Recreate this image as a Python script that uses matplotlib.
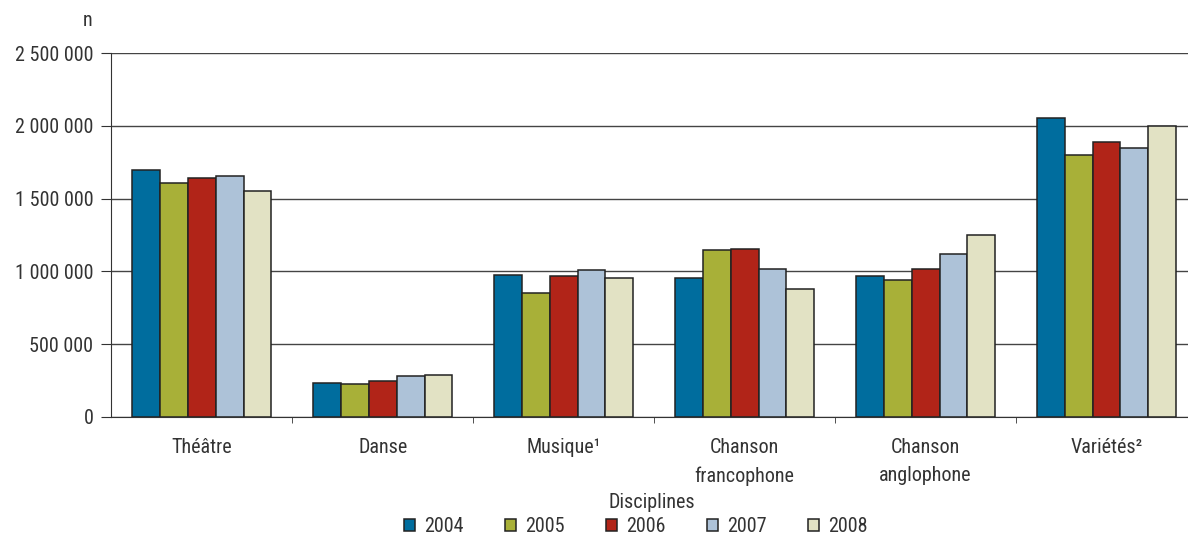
import matplotlib
matplotlib.use("Agg")
import matplotlib.pyplot as plt
from matplotlib import font_manager as fm
import numpy as np
from matplotlib.ticker import FixedLocator, FuncFormatter

# condensed font, if one is around
available = {f.name for f in fm.fontManager.ttflist}
prefs = ['Liberation Sans Narrow', 'Roboto Condensed', 'Archivo Narrow', 'DejaVu Sans']
font = next(p for p in prefs if p in available or p == 'DejaVu Sans')
plt.rcParams['font.family'] = [font, 'DejaVu Sans']
plt.rcParams['text.color'] = '#333333'

categories = ['Théâtre', 'Danse', 'Musique¹', 'Chanson\nfrancophone',
              'Chanson\nanglophone', 'Variétés²']
years = ['2004', '2005', '2006', '2007', '2008']
v2004 = [1700000, 230000, 972000, 952000, 966000, 2052000]
v2005 = [1605000, 223000, 851000, 1144000, 942000, 1802000]
v2006 = [1640000, 243000, 970000, 1153000, 1016000, 1887000]
v2007 = [1658000, 278000, 1011000, 1018000, 1117000, 1846000]
v2008 = [1554000, 285000, 954000, 880000, 1250000, 1997000]
colors = ['#006d9e', '#a8b038', '#b12418', '#adc2d8', '#e2e2c4']

series = [v2004, v2005, v2006, v2007, v2008]

fig = plt.figure(figsize=(11.88, 5.41), dpi=100)
ax = fig.add_axes([0.0937, 0.2298, 0.9139, 0.6717])

x = np.arange(len(categories))
w = 0.154
for i, (vals, col, yr) in enumerate(zip(series, colors, years)):
    ax.bar(x + (i - 2) * w, vals, w, color=col, edgecolor='#222222',
           linewidth=1.1, label=yr, zorder=3)

ax.set_xlim(-0.5, len(categories) - 0.5)
ax.set_ylim(0, 2500000)
ax.set_yticks(np.arange(0, 2500001, 500000))
ax.yaxis.set_major_formatter(FuncFormatter(lambda v, p: f'{int(v):,}'.replace(',', ' ')))
ax.yaxis.grid(True, color='#444444', linewidth=1.0, zorder=0)
ax.set_axisbelow(True)

ax.set_xticks(x)
ax.set_xticklabels(categories, fontsize=14.5, color='#333333', linespacing=1.62)
ax.tick_params(axis='x', length=0, pad=15)
ax.xaxis.set_minor_locator(FixedLocator(np.arange(0.5, len(categories) - 0.5, 1)))
ax.tick_params(axis='x', which='minor', length=4, color='#333333')
ax.tick_params(axis='y', length=7, color='#333333', labelsize=14.5, labelcolor='#333333', pad=6)

for s in ['top', 'right']:
    ax.spines[s].set_visible(False)
ax.spines['left'].set_color('#333333')
ax.spines['bottom'].set_color('#333333')

fig.text(88 / 1188, 1 - 21 / 541, 'n', ha='center', va='center', fontsize=14.5, color='#333333')
fig.text(652 / 1188, 1 - 502 / 541, 'Disciplines', ha='center', va='center', fontsize=14.5, color='#333333')

ax.legend(loc='center', bbox_to_anchor=(636 / 1188, 1 - 527 / 541),
          bbox_transform=fig.transFigure, ncol=5, frameon=False, fontsize=14.5,
          handlelength=0.55, handleheight=0.55, columnspacing=2.05, handletextpad=0.45)

fig.savefig('out.png', dpi=100)
